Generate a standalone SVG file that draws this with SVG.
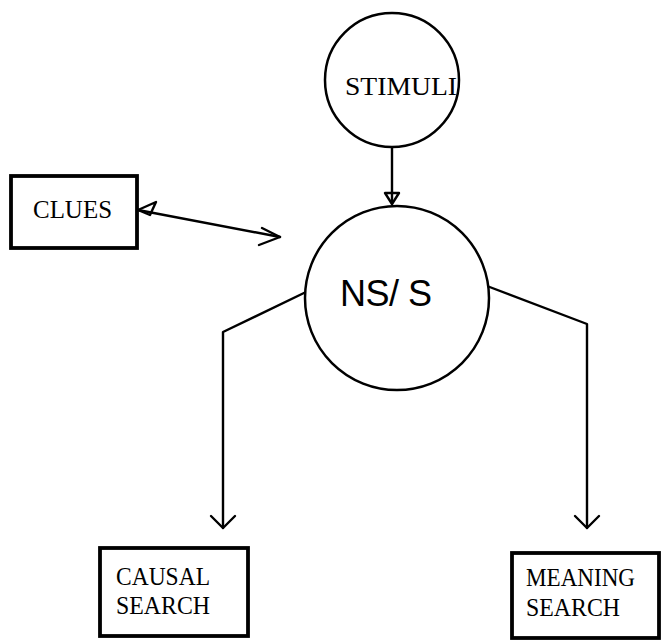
<svg xmlns="http://www.w3.org/2000/svg" width="661" height="641" viewBox="0 0 661 641">
<style>
.ln{fill:none;stroke:#000;stroke-width:2.4;stroke-linecap:round;stroke-linejoin:round}
.box{fill:#fff;stroke:#000;stroke-width:3.8}
.circ{fill:#fff;stroke:#000;stroke-width:2.5}
.tw{font-family:"Liberation Serif","Times New Roman",serif;font-size:26px;fill:#000}
.hw{font-family:"Liberation Sans",Arial,sans-serif;font-size:36px;fill:#000}
</style>
<rect width="661" height="641" fill="#fff"/>
<g id="connectors">
  <path class="ln" d="M392,148 L392,204"/>
  <path class="ln" d="M385,193 L399,193 L392,204 Z"/>
  <path class="ln" d="M138,210 L280,237"/>
  <path class="ln" d="M138,210 L156,202 L150,215 Z"/>
  <path class="ln" d="M262,228 L280,237 L259,245"/>
  <path class="ln" d="M306,292 L223,332 L223,528"/>
  <path class="ln" d="M211,516 L223,528 L235,516"/>
  <path class="ln" d="M487,286 L587,324 L587,528"/>
  <path class="ln" d="M575,516 L587,528 L599,516"/>
</g>
<g id="stimuli">
  <circle class="circ" cx="392" cy="80" r="67"/>
  <text class="tw" x="345" y="95" textLength="112" lengthAdjust="spacingAndGlyphs">STIMULI</text>
</g>
<g id="nss">
  <circle class="circ" cx="397" cy="298" r="92"/>
  <text class="hw" x="340" y="306" textLength="92">NS/ S</text>
</g>
<g id="clues">
  <rect class="box" x="11" y="176" width="126" height="72"/>
  <text class="tw" x="33" y="218" textLength="79" lengthAdjust="spacingAndGlyphs">CLUES</text>
</g>
<g id="causal">
  <rect class="box" x="100" y="548" width="148" height="88"/>
  <text class="tw" x="116" y="585" textLength="94" lengthAdjust="spacingAndGlyphs">CAUSAL</text>
  <text class="tw" x="116" y="614" textLength="94" lengthAdjust="spacingAndGlyphs">SEARCH</text>
</g>
<g id="meaning">
  <rect class="box" x="512" y="553" width="147" height="85"/>
  <text class="tw" x="526" y="586" textLength="109" lengthAdjust="spacingAndGlyphs">MEANING</text>
  <text class="tw" x="526" y="616" textLength="94" lengthAdjust="spacingAndGlyphs">SEARCH</text>
</g>
</svg>
